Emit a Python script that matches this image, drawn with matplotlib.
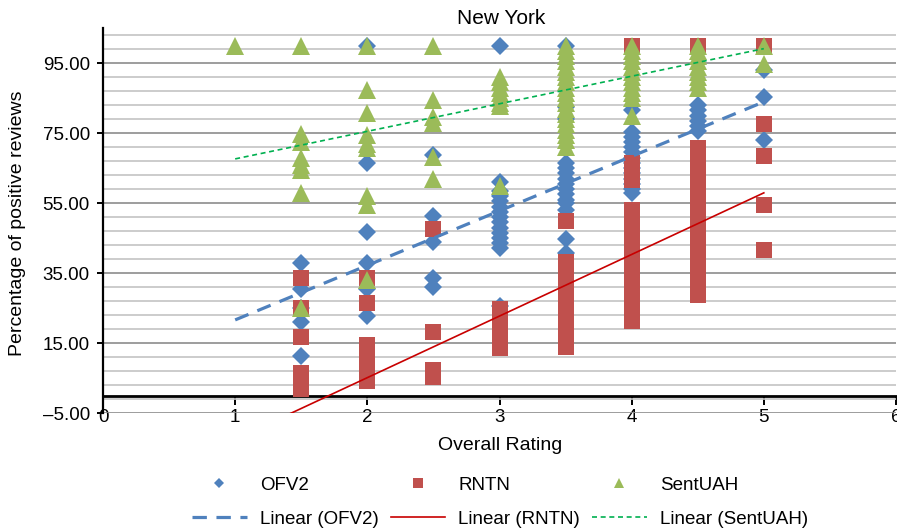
import numpy as np
import matplotlib
matplotlib.use("Agg")
from matplotlib import pyplot as plt
from matplotlib.ticker import FixedLocator, FuncFormatter

plt.rcParams['font.family'] = ['Liberation Sans', 'DejaVu Sans']

# values, grouped by overall rating
ratings = [1, 1.5, 2, 2.5, 3, 3.5, 4, 4.5, 5]

ofv2_values = [
    [],
    [37.8, 30.5, 25, 21.1, 11.4],
    [100, 66.3, 46.6, 37.8, 30.4, 22.7],
    [68.7, 51.3, 44, 33.5, 31.1],
    [100, 61, 58.5, 57, 55.5, 54, 52.5, 51, 49.5, 48, 46.5, 45, 43.5, 42.2, 25.5],
    [100, 82.5, 79, 66.3, 65, 63.5, 62, 60.5, 59, 57.5, 56, 55, 53, 44.7, 40.7],
    [81.5, 75.3, 74, 72.5, 71, 69.5, 68, 66.5, 65, 63.5, 62, 60.5, 59, 57.9],
    [83, 81.5, 80, 78.5, 77, 75.6],
    [93, 85.4, 73],
]

rntn_values = [
    [],
    [33.5, 24.9, 16.8, 6.5, 4, 2],
    [33.5, 26.3, 14.4, 12, 9.5, 7, 4.2],
    [47.5, 18.2, 7.3, 5.4],
    [24.7, 23, 21.5, 20, 18.5, 17, 15.5, 13.7],
    [50, 38.1, 36.5, 35, 33.5, 32, 30.5, 29, 27.5, 26, 24.5, 23, 21.5, 20,
     18.5, 17, 15.5, 13.9],
    [100, 66.5, 64, 61.6, 53, 51, 49, 47, 45, 43, 41, 39, 37, 35, 33, 31,
     29, 27, 25, 23, 21.4],
    [100, 70.8, 69, 67, 65, 63, 61, 59, 57, 55, 53, 51, 49, 47, 45, 43, 41,
     39, 37, 35, 33, 31, 28.6],
    [100, 77.6, 68.4, 54.4, 41.7],
]

sentuah_values = [
    [100],
    [100, 74.7, 72.5, 68, 66, 64.5, 58, 25],
    [100, 87.3, 80.8, 74.4, 72, 70.6, 56.9, 54.5, 33],
    [100, 84.4, 79.7, 78, 68.2, 61.8],
    [91, 89.5, 88, 86.5, 85, 83.5, 82.7, 60],
    [100, 98.5, 97, 95.5, 94, 92.5, 91, 89.5, 88, 86.5, 85, 83.5, 82, 80.5,
     79, 77.5, 76, 74.5, 73, 71],
    [100, 98.5, 97, 95.5, 94, 92.5, 91, 89.5, 88, 86.5, 85.1, 80],
    [100, 98.5, 97, 95.5, 94, 92.5, 91, 89.5, 88],
    [100, 94.7],
]

# linear trendline end points (x = 1 and x = 5)
trend_x = [1, 5]
ofv2_trend = [21.6, 83.9]
rntn_trend = [-12.5, 57.9]
sentuah_trend = [67.6, 99.1]


def flatten(groups):
    xs, ys = [], []
    for r, vals in zip(ratings, groups):
        xs += [r] * len(vals)
        ys += vals
    return np.array(xs), np.array(ys)


W, H = 897, 530
fig = plt.figure(figsize=(W / 100, H / 100), dpi=100)
ax = fig.add_axes([103 / W, 1 - 413 / H, 793 / W, 385 / H])

blue, red, green = '#4F81BD', '#C0504D', '#9BBB59'

x, y = flatten(ofv2_values)
p1, = ax.plot(x, y, 'D', ms=9, color=blue, mew=0, label='OFV2', zorder=3)
x, y = flatten(rntn_values)
p2, = ax.plot(x, y, 's', ms=12, color=red, mew=0, label='RNTN', zorder=4)
x, y = flatten(sentuah_values)
p3, = ax.plot(x, y, '^', ms=13, color=green, mew=0, label='SentUAH', zorder=5)

l1, = ax.plot(trend_x, ofv2_trend, color=blue, lw=2.3, ls=(0, (4.5, 3)),
              label='Linear (OFV2)', zorder=6)
l2, = ax.plot(trend_x, rntn_trend, color='#C80000', lw=1.2,
              label='Linear (RNTN)', zorder=6)
l3, = ax.plot(trend_x, sentuah_trend, color='#00B050', lw=1.2,
              ls=(0, (3, 2.2)), label='Linear (SentUAH)', zorder=6)

ax.set_xlim(0, 6)
ax.set_ylim(-5, 105)

ax.yaxis.set_major_locator(FixedLocator([-5, 15, 35, 55, 75, 95]))
ax.yaxis.set_minor_locator(FixedLocator(np.arange(-1, 105, 4)))
ax.yaxis.set_major_formatter(FuncFormatter(lambda v, p: f"{v:.2f}".replace('-', '\u2013')))
ax.grid(which='major', axis='y', color='#8C8C8C', lw=1.2, zorder=0)
ax.grid(which='minor', axis='y', color='#C4C4C4', lw=1.2, zorder=0)
ax.set_axisbelow(True)

ax.set_xticks(range(7))
ax.spines['bottom'].set_position(('data', 0))
for s in ['top', 'right']:
    ax.spines[s].set_visible(False)
ax.spines['left'].set_linewidth(1.6)
ax.spines['bottom'].set_linewidth(2)
ax.tick_params(axis='y', which='major', length=4.5, width=1.4, pad=5,
               labelsize=13.5)
ax.tick_params(axis='y', which='minor', length=0)
ax.tick_params(axis='x', length=6.5, width=1.4, pad=3, labelsize=13.5)

fig.text(501 / W, 1 - 19 / H, 'New York', ha='center', va='center', fontsize=15)
fig.text(500 / W, 1 - 446 / H, 'Overall Rating', ha='center', va='center', fontsize=14)
fig.text(18 / W, 1 - 223 / H, 'Percentage of positive reviews', ha='center',
         va='center', rotation=90, fontsize=14)

fig.legend(handles=[p1, l1, p2, l2, p3, l3], ncol=3, loc='center',
           bbox_to_anchor=(500 / W, 1 - 502 / H), frameon=False, fontsize=13.5,
           markerscale=0.6, handlelength=2.9, handletextpad=0.7,
           columnspacing=0.65, labelspacing=0.9, numpoints=1)

fig.savefig('out.png', dpi=100)
